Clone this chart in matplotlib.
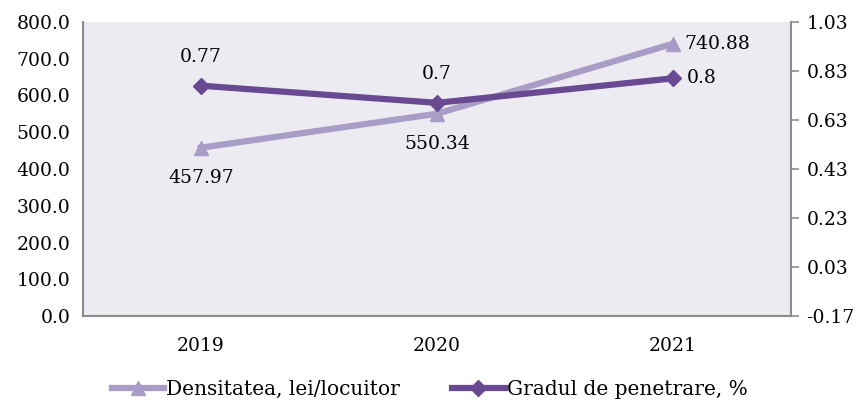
import matplotlib
matplotlib.use("Agg")
import matplotlib.pyplot as plt

years = ["2019", "2020", "2021"]
densitate = [457.97, 550.34, 740.88]
penetrare = [0.77, 0.70, 0.80]
left_ticks = [0, 100, 200, 300, 400, 500, 600, 700, 800]
right_ticks = [-0.17, 0.03, 0.23, 0.43, 0.63, 0.83, 1.03]

light = "#a99cc6"
dark = "#694a92"
grey = "#8c8c8c"

plt.rcParams["font.family"] = ["DejaVu Serif"]
plt.rcParams["font.size"] = 13.5

fig = plt.figure(figsize=(8.59, 4.03), dpi=100)
ax = fig.add_axes([83 / 859, 1 - 316 / 403, 708 / 859, 294 / 403])
ax2 = ax.twinx()
ax.set_facecolor("#ecebf1")

x = list(range(len(years)))
l1, = ax.plot(x, densitate, color=light, lw=4.5, marker="^", ms=10,
              label="Densitatea, lei/locuitor")
l2, = ax2.plot(x, penetrare, color=dark, lw=4.5, marker="D", ms=8,
               label="Gradul de penetrare, %")

ax.set_xlim(-0.5, 2.5)
ax.set_ylim(0, 800)
ax2.set_ylim(-0.17, 1.03)
ax.set_yticks(left_ticks)
ax.set_yticklabels([f"{v:.1f}" for v in left_ticks])
ax2.set_yticks(right_ticks)
ax2.set_yticklabels([f"{v:.2f}" for v in right_ticks])
ax.set_xticks(x)
ax.set_xticklabels(years)

for a in (ax, ax2):
    for s in a.spines.values():
        s.set_visible(False)
ax.spines["left"].set_visible(True)
ax.spines["bottom"].set_visible(True)
ax2.spines["right"].set_visible(True)
for s in (ax.spines["left"], ax.spines["bottom"], ax2.spines["right"]):
    s.set_color(grey)
    s.set_linewidth(1.5)

ax.tick_params(axis="y", length=0, pad=9)
ax.tick_params(axis="x", length=0, pad=15)
ax2.tick_params(axis="y", length=6, color=grey, width=1.2, pad=5)

# labels for density
ax.annotate("457.97", (0, densitate[0]), xytext=(0, -15), textcoords="offset points",
            ha="center", va="top")
ax.annotate("550.34", (1, densitate[1]), xytext=(0, -15), textcoords="offset points",
            ha="center", va="top")
ax.annotate("740.88", (2, densitate[2]), xytext=(8, 0), textcoords="offset points",
            ha="left", va="center")
# labels for penetration
ax2.annotate("0.77", (0, penetrare[0]), xytext=(0, 14), textcoords="offset points",
             ha="center", va="bottom")
ax2.annotate("0.7", (1, penetrare[1]), xytext=(0, 14), textcoords="offset points",
             ha="center", va="bottom")
ax2.annotate("0.8", (2, penetrare[2]), xytext=(10, 0), textcoords="offset points",
             ha="left", va="center")

fig.legend(handles=[l1, l2], loc="lower center", ncol=2, frameon=False,
           bbox_to_anchor=(0.5, -0.035), handlelength=2.6, handletextpad=0.1,
           columnspacing=2.6, fontsize=14.5)

fig.savefig("out.png", dpi=100, facecolor="white")
